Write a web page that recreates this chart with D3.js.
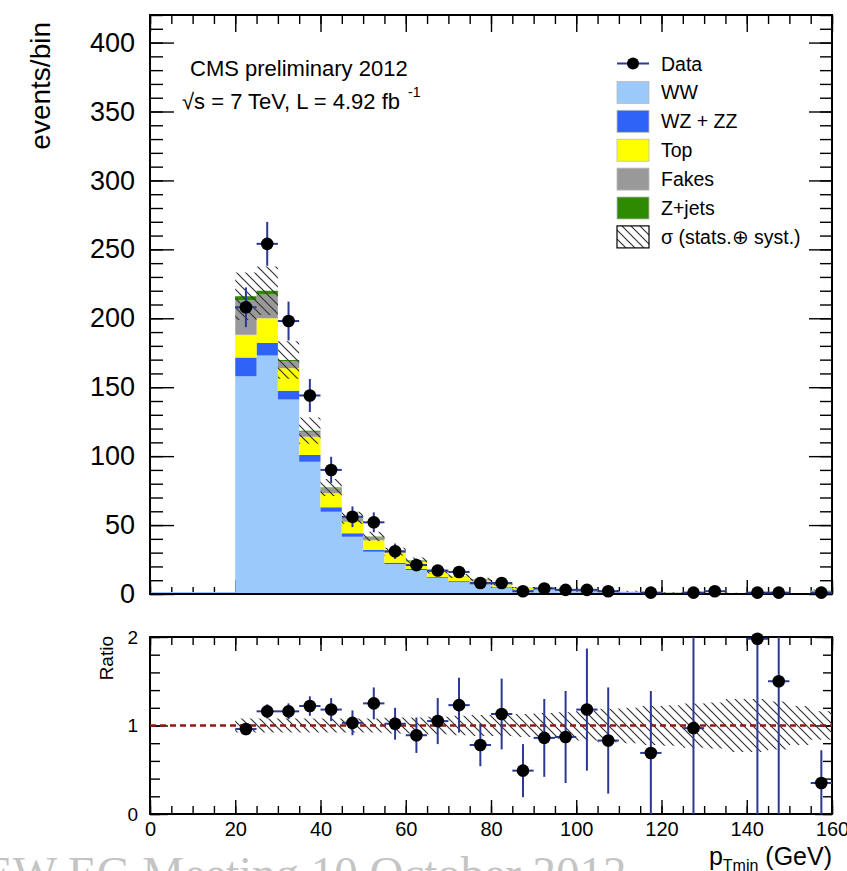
<!DOCTYPE html>
<html>
<head>
<meta charset="utf-8">
<script src="https://cdn.jsdelivr.net/npm/d3@7"></script>
<style>
  html, body { margin: 0; padding: 0; background: #fff; }
  svg { display: block; }
  text { font-family: "Liberation Sans", Arial, Helvetica, sans-serif; fill: #000; }
</style>
</head>
<body>
<div id="chart"></div>
<script>
// bins: 5 GeV wide, lower edges
const binLow = [20, 25, 30, 35, 40, 45, 50, 55, 60, 65, 70, 75, 80, 85, 90, 95, 100, 105, 110, 115, 120, 125, 130, 135, 140, 145, 150, 155];
const binWidth = 5;

// stacked backgrounds (events/bin)
const ww      = [158, 173, 141, 96, 59.7, 41.6, 30.7, 21.8, 17.4, 11.8, 8.9, 6.5, 4.8, 3.2, 3.0, 2.4, 1.9, 1.6, 1.3, 1.0, 0.9, 0.8, 0.6, 0.5, 0.4, 0.5, 0.4, 2.3];
const wzzz    = [13.6, 9, 6.4, 4.8, 3.2, 2.4, 1.3, 0.8, 0.7, 0.6, 0.5, 0.5, 0.4, 0.3, 0.3, 0.2, 0.2, 0.2, 0.1, 0.1, 0.1, 0.1, 0.05, 0.05, 0.05, 0.05, 0.05, 0.2];
const topQ    = [16.4, 18, 16.3, 13.2, 10.1, 8.4, 7, 7.2, 5.3, 3.8, 3.5, 2.8, 1.5, 0.8, 1.0, 0.6, 0.5, 0.5, 0.6, 0.3, 0.2, 0.1, 0.1, 0.1, 0.05, 0.1, 0.05, 0.3];
const fakes   = [25, 17.3, 5.3, 3.7, 3.7, 2.6, 2.6, 0.4, 0.3, 0.2, 0.1, 0.3, 0.2, 0.1, 0.1, 0.1, 0, 0.1, 0, 0, 0, 0, 0, 0, 0, 0, 0, 0];
const zjets   = [3, 2.7, 0.7, 0.8, 0.5, 0.3, 0.2, 0.5, 0.6, 0.2, 0.1, 0.5, 0.2, 0.1, 0.1, 0, 0, 0, 0, 0, 0, 0, 0, 0, 0, 0, 0, 0];

// relative uncertainty (stats + syst) of the prediction
const relUnc  = [0.08, 0.08, 0.08, 0.08, 0.08, 0.08, 0.08, 0.09, 0.09, 0.1, 0.11, 0.12, 0.12, 0.13, 0.14, 0.15, 0.17, 0.19, 0.2, 0.22, 0.23, 0.25, 0.26, 0.3, 0.3, 0.27, 0.22, 0.16];

// data
const dataVal = [208, 254, 198, 144, 90, 56, 52, 31, 21, 17, 16, 8, 8, 2, 4, 3, 3, 2, 0, 1, 0, 1, 2, 0, 1, 1, 0, 1];
const dataErr = [14.4, 15.9, 14.1, 12, 9.5, 7.5, 7.2, 5.6, 4.6, 4.1, 4, 2.8, 2.8, 1.4, 2, 1.7, 1.7, 1.4, 0, 1, 0, 1, 1.4, 0, 1, 1, 0, 1];

// data / prediction (null = not shown)
const ratioVal   = [0.96, 1.16, 1.16, 1.22, 1.18, 1.03, 1.25, 1.02, 0.89, 1.05, 1.23, 0.78, 1.13, 0.49, 0.86, 0.87, 1.18, 0.83, null, 0.69, null, 0.97, null, null, 1.98, 1.5, null, 0.35];
const ratioErrLo = [0.07, 0.08, 0.09, 0.11, 0.13, 0.14, 0.18, 0.18, 0.2, 0.26, 0.31, 0.24, 0.4, 0.3, 0.44, 0.52, 0.69, 0.6, 0, 0.69, 0, 0.97, 0, 0, 1.98, 1.5, 0, 0.35];
const ratioErrHi = [0.07, 0.08, 0.09, 0.11, 0.13, 0.14, 0.18, 0.18, 0.2, 0.26, 0.31, 0.24, 0.4, 0.3, 0.44, 0.52, 0.69, 0.6, 0, 0.7, 0, 1.03, 0, 0, 0.02, 0.5, 0, 0.37];

const procKeys   = ["WW", "WZ + ZZ", "Top", "Fakes", "Z+jets"];
const procColors = ["#9cc9fb", "#2f62f7", "#ffff00", "#999999", "#2e8a00"];
const yTicksMain = [0, 50, 100, 150, 200, 250, 300, 350, 400];
const xTicks     = [0, 20, 40, 60, 80, 100, 120, 140, 160];
const yTicksRatio = [0, 1, 2];

const W = 847, H = 871;
const errColor = "#2b3990";

var svg = d3.select("#chart").append("svg")
    .attr("width", W)
    .attr("height", H);

var defs = svg.append("defs");
var pat = defs.append("pattern")
    .attr("id", "hatch")
    .attr("patternUnits", "userSpaceOnUse")
    .attr("width", 9)
    .attr("height", 9);
pat.append("path")
    .attr("d", "M0,0 L9,9 M-4.5,4.5 L4.5,13.5 M4.5,-4.5 L13.5,4.5")
    .attr("stroke", "#333")
    .attr("stroke-width", 1.2);

// scales
var x = d3.scaleLinear().domain([0, 160]).range([150, 832]);
var y = d3.scaleLinear().domain([0, 420]).range([594, 15]);
var yr = d3.scaleLinear().domain([0, 2]).range([814, 637]);

// rows for the stack
var rows = binLow.map(function (lo, i) {
    return { lo: lo, hi: lo + binWidth, "WW": ww[i], "WZ + ZZ": wzzz[i], "Top": topQ[i], "Fakes": fakes[i], "Z+jets": zjets[i] };
});
var series = d3.stack().keys(procKeys)(rows);
var totals = rows.map(function (r) { return d3.sum(procKeys, function (k) { return r[k]; }); });

function stepPoints(arr) {
    // arr: [{lo, hi, y0, y1}] -> points for a stepped area
    var pts = [];
    arr.forEach(function (d) {
        pts.push({ x: d.lo, y0: d.y0, y1: d.y1 });
        pts.push({ x: d.hi, y0: d.y0, y1: d.y1 });
    });
    return pts;
}

function tickAxis(gen, scale, values, size, g) {
    g.call(gen(scale).tickValues(values).tickSize(size).tickFormat(""))
        .call(function (s) { s.select(".domain").remove(); });
    g.selectAll(".tick line").attr("stroke", "#000").attr("stroke-width", 1.4);
}

// ---------------- main pad ----------------
var main = svg.append("g").attr("class", "main");

// ticks (drawn under the histograms)
tickAxis(d3.axisLeft, y, d3.range(0, 421, 10), -13, main.append("g").attr("transform", "translate(150,0)"));
tickAxis(d3.axisLeft, y, yTicksMain, -24, main.append("g").attr("transform", "translate(150,0)"));
tickAxis(d3.axisRight, y, d3.range(0, 421, 10), -12, main.append("g").attr("transform", "translate(832,0)"));
tickAxis(d3.axisRight, y, yTicksMain, -23, main.append("g").attr("transform", "translate(832,0)"));
tickAxis(d3.axisTop, x, d3.range(0, 161, 5), -9, main.append("g").attr("transform", "translate(0,15)"));
tickAxis(d3.axisTop, x, xTicks, -17, main.append("g").attr("transform", "translate(0,15)"));
tickAxis(d3.axisBottom, x, d3.range(0, 161, 5), -7, main.append("g").attr("transform", "translate(0,594)"));
tickAxis(d3.axisBottom, x, xTicks, -14, main.append("g").attr("transform", "translate(0,594)"));

// y labels
var yLab = main.append("g").attr("transform", "translate(150,0)")
    .call(d3.axisLeft(y).tickValues(yTicksMain).tickSize(0).tickPadding(15).tickFormat(d3.format("d")));
yLab.select(".domain").remove();
yLab.selectAll("text").style("font-size", "27px").attr("fill", "#000")
    .style("font-family", '"Liberation Sans", Arial, sans-serif');

// WW baseline at zero below the first bin
main.append("line")
    .attr("x1", x(0)).attr("x2", x(binLow[0]))
    .attr("y1", y(0) - 1).attr("y2", y(0) - 1)
    .attr("stroke", procColors[0]).attr("stroke-width", 2);

var area = d3.area()
    .x(function (d) { return x(d.x); })
    .y0(function (d) { return y(d.y0); })
    .y1(function (d) { return y(d.y1); });

main.selectAll(".layer")
    .data(series)
    .enter().append("path")
    .attr("class", "layer")
    .attr("fill", function (d, i) { return procColors[i]; })
    .attr("d", function (s) {
        return area(stepPoints(s.map(function (d) { return { lo: d.data.lo, hi: d.data.hi, y0: d[0], y1: d[1] }; })));
    });

// frame
main.append("rect")
    .attr("x", x(0)).attr("y", y(420))
    .attr("width", x(160) - x(0)).attr("height", y(0) - y(420))
    .attr("fill", "none").attr("stroke", "#000").attr("stroke-width", 2);

// uncertainty band
main.append("path")
    .attr("fill", "url(#hatch)")
    .attr("d", area(stepPoints(rows.map(function (r, i) {
        return { lo: r.lo, hi: r.hi, y0: totals[i] * (1 - relUnc[i]), y1: totals[i] * (1 + relUnc[i]) };
    }))));

// data points
var pts = rows.map(function (r, i) { return { c: r.lo + binWidth / 2, lo: r.lo, hi: r.hi, v: dataVal[i], e: dataErr[i] }; })
    .filter(function (d) { return d.v > 0; });

var dg = main.append("g").attr("class", "data");
dg.selectAll(".ex").data(pts).enter().append("line")
    .attr("x1", function (d) { return x(d.lo); }).attr("x2", function (d) { return x(d.hi); })
    .attr("y1", function (d) { return y(d.v); }).attr("y2", function (d) { return y(d.v); })
    .attr("stroke", errColor).attr("stroke-width", 2);
dg.selectAll(".ey").data(pts).enter().append("line")
    .attr("x1", function (d) { return x(d.c); }).attr("x2", function (d) { return x(d.c); })
    .attr("y1", function (d) { return y(d.v + d.e); }).attr("y2", function (d) { return y(d.v - d.e); })
    .attr("stroke", errColor).attr("stroke-width", 2);
dg.selectAll("circle").data(pts).enter().append("circle")
    .attr("cx", function (d) { return x(d.c); })
    .attr("cy", function (d) { return y(d.v); })
    .attr("r", 6.3).attr("fill", "#000");

// texts
main.append("text")
    .attr("transform", "translate(50,22) rotate(-90)")
    .attr("text-anchor", "end")
    .style("font-size", "28px")
    .text("events/bin");

main.append("text")
    .attr("x", 190).attr("y", 76)
    .style("font-size", "22px")
    .text("CMS preliminary 2012");

var lumi = main.append("text")
    .attr("x", 182).attr("y", 109)
    .style("font-size", "22px");
lumi.append("tspan").text("√s = 7 TeV, L = 4.92 fb");
lumi.append("tspan").attr("dx", 8).attr("dy", -12).style("font-size", "14px").text("-1");

// legend
var legend = main.append("g").attr("class", "legend");
var legY0 = 63.5, legStep = 28.9;

legend.append("line")
    .attr("x1", 617).attr("x2", 649).attr("y1", legY0).attr("y2", legY0)
    .attr("stroke", errColor).attr("stroke-width", 2);
legend.append("circle").attr("cx", 633).attr("cy", legY0).attr("r", 6).attr("fill", "#000");
legend.append("text").attr("x", 661).attr("y", legY0).attr("dy", "0.36em")
    .style("font-size", "19.5px").text("Data");

procKeys.forEach(function (k, i) {
    var cy = legY0 + legStep * (i + 1);
    legend.append("rect")
        .attr("x", 617).attr("y", cy - 11).attr("width", 32).attr("height", 22)
        .attr("fill", procColors[i]).attr("stroke", "#bbb").attr("stroke-width", 0.8);
    legend.append("text").attr("x", 661).attr("y", cy).attr("dy", "0.36em")
        .style("font-size", "19.5px").text(k);
});
var sy = legY0 + legStep * 6;
legend.append("rect")
    .attr("x", 617).attr("y", sy - 11).attr("width", 32).attr("height", 22)
    .attr("fill", "url(#hatch)").attr("stroke", "#000").attr("stroke-width", 1.2);
legend.append("text").attr("x", 661).attr("y", sy).attr("dy", "0.36em")
    .style("font-size", "19.5px").text("σ (stats.⊕ syst.)");

// ---------------- ratio pad ----------------
var rp = svg.append("g").attr("class", "ratio");

tickAxis(d3.axisLeft, yr, d3.range(0, 2.001, 0.2), -10, rp.append("g").attr("transform", "translate(150,0)"));
tickAxis(d3.axisLeft, yr, yTicksRatio, -18, rp.append("g").attr("transform", "translate(150,0)"));
tickAxis(d3.axisRight, yr, d3.range(0, 2.001, 0.2), -9, rp.append("g").attr("transform", "translate(832,0)"));
tickAxis(d3.axisRight, yr, yTicksRatio, -17, rp.append("g").attr("transform", "translate(832,0)"));
tickAxis(d3.axisTop, x, d3.range(0, 161, 5), -8, rp.append("g").attr("transform", "translate(0,637)"));
tickAxis(d3.axisTop, x, xTicks, -14, rp.append("g").attr("transform", "translate(0,637)"));
tickAxis(d3.axisBottom, x, d3.range(0, 161, 5), -8, rp.append("g").attr("transform", "translate(0,814)"));
tickAxis(d3.axisBottom, x, xTicks, -14, rp.append("g").attr("transform", "translate(0,814)"));

var ryLab = rp.append("g").attr("transform", "translate(150,0)")
    .call(d3.axisLeft(yr).tickValues(yTicksRatio).tickSize(0).tickPadding(12).tickFormat(d3.format("d")));
ryLab.select(".domain").remove();
ryLab.selectAll("text").style("font-size", "19px").attr("fill", "#000")
    .style("font-family", '"Liberation Sans", Arial, sans-serif');

var rxLab = rp.append("g").attr("transform", "translate(0,814)")
    .call(d3.axisBottom(x).tickValues(xTicks).tickSize(0).tickPadding(8).tickFormat(d3.format("d")));
rxLab.select(".domain").remove();
rxLab.selectAll("text").style("font-size", "20px").attr("fill", "#000")
    .style("font-family", '"Liberation Sans", Arial, sans-serif');

rp.append("rect")
    .attr("x", x(0)).attr("y", yr(2))
    .attr("width", x(160) - x(0)).attr("height", yr(0) - yr(2))
    .attr("fill", "none").attr("stroke", "#000").attr("stroke-width", 2);

var rArea = d3.area()
    .x(function (d) { return x(d.x); })
    .y0(function (d) { return yr(d.y0); })
    .y1(function (d) { return yr(d.y1); });
rp.append("path")
    .attr("fill", "url(#hatch)")
    .attr("d", rArea(stepPoints(rows.map(function (r, i) {
        return { lo: r.lo, hi: r.hi, y0: 1 - relUnc[i], y1: 1 + relUnc[i] };
    }))));

rp.append("line")
    .attr("x1", x(0)).attr("x2", x(160))
    .attr("y1", yr(1)).attr("y2", yr(1))
    .attr("stroke", "#8e1b12").attr("stroke-width", 2.5)
    .attr("stroke-dasharray", "6,4");

var rpts = rows.map(function (r, i) {
    return { c: r.lo + binWidth / 2, lo: r.lo, hi: r.hi, v: ratioVal[i], el: ratioErrLo[i], eh: ratioErrHi[i] };
}).filter(function (d) { return d.v !== null; });

var clip = function (v) { return Math.max(0, Math.min(2, v)); };
rp.selectAll(".rex").data(rpts).enter().append("line")
    .attr("x1", function (d) { return x(d.lo); }).attr("x2", function (d) { return x(d.hi); })
    .attr("y1", function (d) { return yr(d.v); }).attr("y2", function (d) { return yr(d.v); })
    .attr("stroke", errColor).attr("stroke-width", 2);
rp.selectAll(".rey").data(rpts).enter().append("line")
    .attr("x1", function (d) { return x(d.c); }).attr("x2", function (d) { return x(d.c); })
    .attr("y1", function (d) { return yr(clip(d.v + d.eh)); }).attr("y2", function (d) { return yr(clip(d.v - d.el)); })
    .attr("stroke", errColor).attr("stroke-width", 2);
rp.selectAll("circle").data(rpts).enter().append("circle")
    .attr("cx", function (d) { return x(d.c); })
    .attr("cy", function (d) { return yr(d.v); })
    .attr("r", 6.3).attr("fill", "#000");

rp.append("text")
    .attr("transform", "translate(113,636) rotate(-90)")
    .attr("text-anchor", "end")
    .style("font-size", "19px")
    .text("Ratio");

var xt = rp.append("text")
    .attr("x", 832).attr("y", 865)
    .attr("text-anchor", "end")
    .style("font-size", "25px");
xt.append("tspan").text("p");
xt.append("tspan").attr("dy", 6).style("font-size", "16px").text("Tmin");
xt.append("tspan").attr("dy", -6).text(" (GeV)");

// slide footer, cut by the picture edge
svg.append("text")
    .attr("x", -16).attr("y", 889)
    .style("font-family", '"Liberation Serif", "Times New Roman", serif')
    .style("font-size", "47px")
    .style("fill", "#c4c4c4")
    .text("EW EG Meeting  10 October  2012");
</script>
</body>
</html>
